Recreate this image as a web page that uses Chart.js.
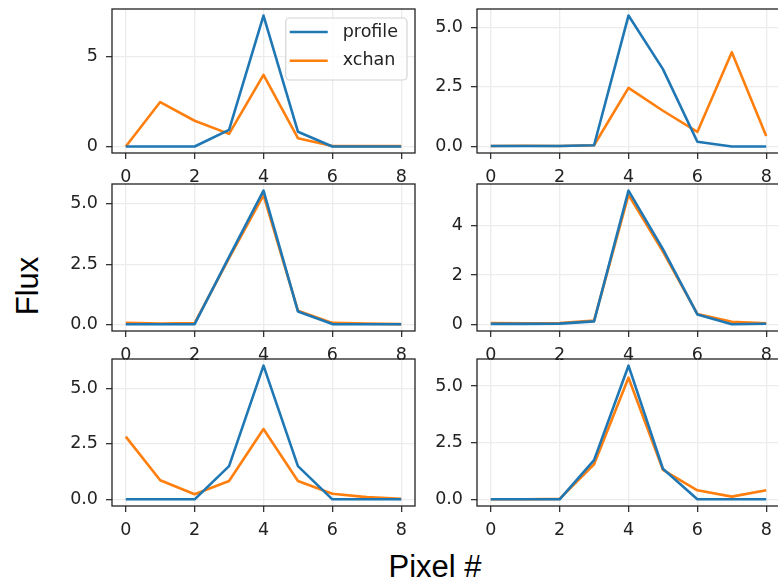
<!DOCTYPE html>
<html>
<head>
<meta charset="utf-8">
<script src="https://cdn.jsdelivr.net/npm/chart.js@4.4.1/dist/chart.umd.min.js"></script>
<style>
  html, body { margin: 0; padding: 0; background: #fff; width: 778px; height: 578px; overflow: hidden; position: relative; }
  .panel { position: absolute; }
  .lbl { position: absolute; font-family: "Liberation Sans", Arial, sans-serif; font-size: 31px; line-height: 1; color: #000; white-space: nowrap; }
  #ylab { left: 27px; top: 286px; transform: translate(-50%, -50%) rotate(-90deg); }
  #xlab { left: 435px; top: 551px; transform: translateX(-50%); }
</style>
</head>
<body>
<div class="lbl" id="ylab">Flux</div>
<div class="lbl" id="xlab">Pixel #</div>
<script>
// pixel index along the slit, same for every panel
const pixels = [0, 1, 2, 3, 4, 5, 6, 7, 8];
const xTicks = [0, 2, 4, 6, 8];

// row 1
const profile1 = [0, 0, 0, 0.92, 7.28, 0.82, 0, 0, 0];
const xchan1   = [0, 2.47, 1.43, 0.70, 3.98, 0.46, 0.02, 0.02, 0.02];
const yTicks1  = [0, 5];

const profile2 = [0.02, 0.02, 0.02, 0.05, 5.5, 3.25, 0.2, 0.0, 0.0];
const xchan2   = [0.02, 0.03, 0.02, 0.05, 2.46, 1.5, 0.61, 3.96, 0.44];
const yTicks2  = [0, 2.5, 5];

// row 2
const profile3 = [0.02, 0.02, 0.03, 2.8, 5.53, 0.55, 0.03, 0.02, 0.02];
const xchan3   = [0.08, 0.05, 0.07, 2.75, 5.35, 0.58, 0.08, 0.05, 0.03];
const yTicks3  = [0, 2.5, 5];

const profile4 = [0.02, 0.02, 0.03, 0.12, 5.42, 3.05, 0.4, 0.0, 0.02];
const xchan4   = [0.05, 0.04, 0.05, 0.15, 5.25, 2.95, 0.42, 0.1, 0.04];
const yTicks4  = [0, 2, 4];

// row 3
const profile5 = [0, 0, 0, 1.5, 6.03, 1.5, 0, 0, 0];
const xchan5   = [2.83, 0.86, 0.23, 0.83, 3.17, 0.83, 0.25, 0.1, 0.02];
const yTicks5  = [0, 2.5, 5];

const profile6 = [0, 0, 0, 1.73, 5.9, 1.35, 0, 0, 0];
const xchan6   = [0.0, 0.0, 0.02, 1.55, 5.37, 1.3, 0.4, 0.12, 0.4];
const yTicks6  = [0, 2.5, 5];

const panels = [
  { profile: profile1, xchan: xchan1, yTicks: yTicks1, dec: 0, legend: true },
  { profile: profile2, xchan: xchan2, yTicks: yTicks2, dec: 1 },
  { profile: profile3, xchan: xchan3, yTicks: yTicks3, dec: 1 },
  { profile: profile4, xchan: xchan4, yTicks: yTicks4, dec: 0 },
  { profile: profile5, xchan: xchan5, yTicks: yTicks5, dec: 1 },
  { profile: profile6, xchan: xchan6, yTicks: yTicks6, dec: 1 },
];

// subplot frames (matplotlib axes boxes)
const colLeft = [112, 477];
const rowTop = [9, 184, 359];
const rowHeight = [144, 147, 147];
const frameWidth = 303;
const ML = 70, MT = 12, MR = 12, MB = 40;

Chart.defaults.font.family = '"DejaVu Sans", sans-serif';
Chart.defaults.color = '#222';

// full box around each axes, drawn on top like matplotlib spines
const frameBox = {
  id: 'frameBox',
  afterDatasetsDraw(chart) {
    const a = chart.chartArea, ctx = chart.ctx;
    ctx.save();
    ctx.strokeStyle = '#222';
    ctx.lineWidth = 1.3;
    ctx.strokeRect(a.left, a.top, a.right - a.left, a.bottom - a.top);
    ctx.restore();
  }
};

const boxLegend = {
  id: 'boxLegend',
  afterDraw(chart, args, opts) {
    if (!opts.show) return;
    const ctx = chart.ctx, area = chart.chartArea;
    ctx.save();
    ctx.font = '17.5px "DejaVu Sans"';
    const items = chart.data.datasets;
    const tw = Math.max(...items.map(d => ctx.measureText(d.label).width));
    const w = 57 + tw + 9, h = 62;
    const x = area.right - 8 - w, y = area.top + 9;
    ctx.beginPath();
    ctx.roundRect(x, y, w, h, 4);
    ctx.fillStyle = 'rgba(255,255,255,0.8)';
    ctx.fill();
    ctx.strokeStyle = '#d4d4d4';
    ctx.lineWidth = 1.2;
    ctx.stroke();
    items.forEach((d, i) => {
      const cy = y + 14 + i * 28.7;
      ctx.strokeStyle = d.borderColor;
      ctx.lineWidth = 2.6;
      ctx.beginPath();
      ctx.moveTo(x + 4, cy);
      ctx.lineTo(x + 42, cy);
      ctx.stroke();
      ctx.fillStyle = '#222';
      ctx.textBaseline = 'middle';
      ctx.fillText(d.label, x + 57, cy);
    });
    ctx.restore();
  }
};

const axisCommon = (tickVals) => ({
  type: 'linear',
  afterBuildTicks: (scale) => { scale.ticks = tickVals.map(v => ({ value: v })); },
  grid: { color: '#ececec', lineWidth: 1.3, tickColor: '#333', tickWidth: 1.3, tickLength: 6 },
  border: { display: false },
  ticks: { font: { size: 17.5 }, color: '#222', maxRotation: 0, autoSkip: false }
});

panels.forEach((p, i) => {
  const col = i % 2, row = Math.floor(i / 2);
  const W = frameWidth + ML + MR, H = rowHeight[row] + MT + MB;
  const div = document.createElement('div');
  div.className = 'panel';
  div.style.left = (colLeft[col] - ML) + 'px';
  div.style.top = (rowTop[row] - MT) + 'px';
  const cv = document.createElement('canvas');
  cv.width = W; cv.height = H;
  cv.style.width = W + 'px'; cv.style.height = H + 'px';
  div.appendChild(cv);
  document.body.appendChild(div);

  const all = p.profile.concat(p.xchan);
  const lo = Math.min(...all), hi = Math.max(...all), pad = 0.05 * (hi - lo);

  const xScale = axisCommon(xTicks);
  xScale.min = -0.4; xScale.max = 8.4;
  xScale.ticks.padding = 8;
  xScale.afterFit = (s) => { s.height = MB; s.paddingLeft = 0; s.paddingRight = 0; };

  const yScale = axisCommon(p.yTicks);
  yScale.min = lo - pad; yScale.max = hi + pad;
  yScale.ticks.padding = 8;
  yScale.ticks.callback = (v) => Number(v).toFixed(p.dec);
  yScale.afterFit = (s) => { s.width = ML; s.paddingTop = 0; s.paddingBottom = 0; };

  new Chart(cv, {
    type: 'line',
    data: {
      datasets: [
        { label: 'profile', data: pixels.map((x, k) => ({ x: x, y: p.profile[k] })), borderColor: '#1f77b4' },
        { label: 'xchan', data: pixels.map((x, k) => ({ x: x, y: p.xchan[k] })), borderColor: '#ff7f0e' }
      ]
    },
    options: {
      responsive: false,
      animation: false,
      devicePixelRatio: 1,
      layout: { padding: { left: 0, top: MT, right: MR, bottom: 0 } },
      elements: {
        line: { borderWidth: 2.6, tension: 0, fill: false, borderJoinStyle: 'round' },
        point: { radius: 0 }
      },
      plugins: {
        legend: { display: false },
        tooltip: { enabled: false },
        boxLegend: { show: !!p.legend }
      },
      scales: { x: xScale, y: yScale }
    },
    plugins: [frameBox, boxLegend]
  });
});
</script>
</body>
</html>
